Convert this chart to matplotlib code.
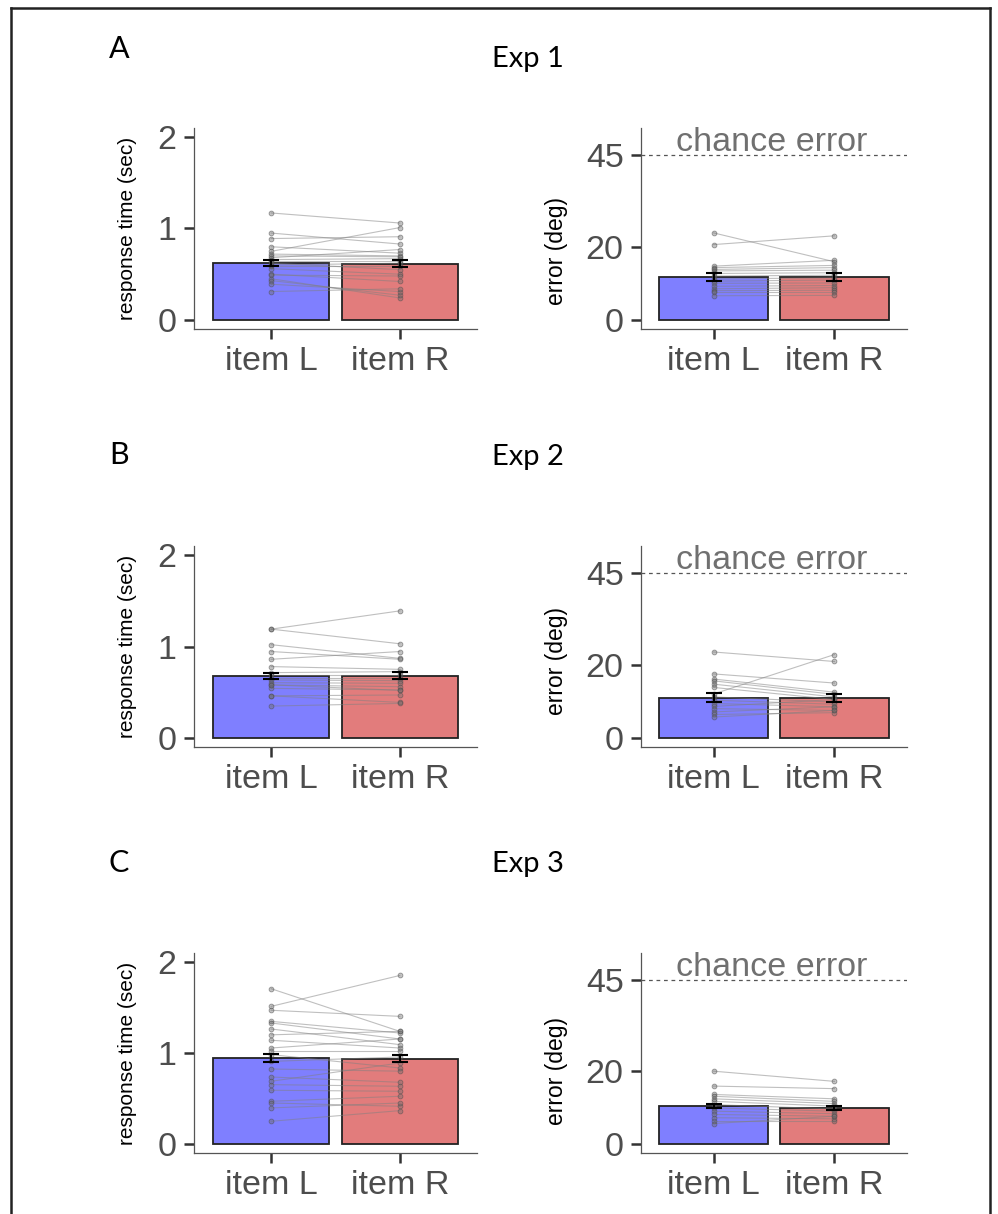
import matplotlib
matplotlib.use("Agg")
import matplotlib.pyplot as plt
from matplotlib.lines import Line2D

W, H = 998, 1214

categories = ["item L", "item R"]
exp_titles = ["Exp 1", "Exp 2", "Exp 3"]
panel_letters = ["A", "B", "C"]

# per-subject response times (sec)
rt1_L = [1.17, 0.95, 0.89, 0.80, 0.75, 0.72, 0.70, 0.68, 0.66, 0.64, 0.62, 0.60, 0.59, 0.56, 0.50, 0.49, 0.45, 0.43, 0.39, 0.31]
rt1_R = [1.06, 0.83, 0.91, 0.73, 1.01, 0.70, 0.69, 0.77, 0.67, 0.64, 0.55, 0.62, 0.59, 0.50, 0.42, 0.48, 0.24, 0.27, 0.31, 0.34]
rt2_L = [1.19, 1.19, 1.02, 0.945, 0.86, 0.78, 0.714, 0.69, 0.66, 0.634, 0.604, 0.579, 0.542, 0.46, 0.46, 0.348, 0.58]
rt2_R = [1.39, 1.03, 0.87, 0.86, 0.945, 0.75, 0.725, 0.69, 0.66, 0.626, 0.597, 0.56, 0.524, 0.469, 0.388, 0.377, 0.52]
rt3_L = [1.707, 1.513, 1.47, 1.348, 1.33, 1.264, 1.20, 1.14, 1.055, 1.018, 0.982, 0.908, 0.824, 0.736, 0.689, 0.652, 0.59, 0.469, 0.45, 0.396, 0.249]
rt3_R = [1.238, 1.853, 1.403, 1.22, 1.154, 1.092, 1.238, 1.055, 1.154, 1.018, 0.835, 0.956, 0.80, 0.678, 0.890, 0.634, 0.579, 0.524, 0.414, 0.45, 0.366]

# per-subject errors (deg)
err1_L = [23.8, 20.6, 14.7, 14.3, 13.8, 13.4, 12.7, 12.0, 11.2, 10.6, 10.0, 9.2, 8.5, 8.0, 7.6, 6.6]
err1_R = [15.9, 23.0, 16.3, 14.9, 14.3, 13.6, 12.9, 12.2, 11.5, 10.9, 10.1, 9.4, 8.8, 8.1, 7.6, 6.7]
err2_L = [23.5, 17.5, 16.1, 15.6, 14.7, 13.8, 12.0, 11.2, 10.3, 9.4, 8.6, 8.0, 7.1, 6.4, 5.7]
err2_R = [20.9, 15.0, 12.5, 11.9, 11.2, 10.5, 22.8, 9.8, 9.2, 8.5, 10.5, 7.5, 8.5, 6.9, 7.5]
err3_L = [20.0, 15.9, 13.6, 13.1, 12.4, 11.7, 10.8, 9.9, 9.0, 8.1, 7.2, 6.2, 5.6]
err3_R = [17.2, 15.2, 12.4, 11.7, 11.1, 10.4, 9.6, 9.0, 8.3, 7.6, 6.9, 6.2, 7.6]

# group means and standard errors (L, R)
rt_means = [[0.623, 0.615], [0.674, 0.681], [0.945, 0.938]]
rt_se = [[0.036, 0.035], [0.033, 0.037], [0.040, 0.038]]
err_means = [[11.8, 11.8], [11.0, 10.8], [10.4, 9.9]]
err_se = [[1.15, 1.15], [1.15, 1.10], [0.65, 0.65]]

chance_error = 45

rt_subjects = [(rt1_L, rt1_R), (rt2_L, rt2_R), (rt3_L, rt3_R)]
err_subjects = [(err1_L, err1_R), (err2_L, err2_R), (err3_L, err3_R)]

BAR_COLORS = ["#7F7FFF", "#E27C7C"]
TICK_GRAY = "#4D4D4D"

plt.rcParams["font.family"] = ["Liberation Sans", "DejaVu Sans"]


def px_axes(fig, left, top, right, bottom):
    return fig.add_axes([left / W, 1 - bottom / H, (right - left) / W, (bottom - top) / H])


def style_axes(ax):
    for side in ["top", "right"]:
        ax.spines[side].set_visible(False)
    for side in ["left", "bottom"]:
        ax.spines[side].set_color("#555555")
        ax.spines[side].set_linewidth(0.9)
    ax.tick_params(axis="both", length=7.5, width=1.8, color="#333333",
                   labelsize=24.5, labelcolor=TICK_GRAY, pad=5)
    ax.set_xticks([1, 2])
    ax.set_xticklabels(categories)
    ax.set_xlim(0.4, 2.6)


def draw_panel(ax, left_vals, right_vals, means, ses):
    ax.bar([1, 2], means, width=0.9, color=BAR_COLORS, edgecolor="#222222",
           linewidth=1.3, zorder=1)
    for a, b in zip(left_vals, right_vals):
        ax.plot([1, 2], [a, b], color="#808080", alpha=0.5, linewidth=0.8, zorder=2)
    xs = [1] * len(left_vals) + [2] * len(right_vals)
    ys = list(left_vals) + list(right_vals)
    ax.scatter(xs, ys, s=12, facecolor=(0.42, 0.42, 0.42, 0.4),
               edgecolor=(0.3, 0.3, 0.3, 0.55), linewidth=0.6, zorder=3)
    ax.errorbar([1, 2], means, yerr=ses, fmt="none", ecolor="black",
                elinewidth=1.5, capsize=6, capthick=1.5, zorder=4)


fig = plt.figure(figsize=(W / 100, H / 100), dpi=100)

rows = [(128, 329), (546, 747), (953, 1153)]
letter_base = [58, 464, 872]
title_base = [67, 465, 872]
err_label_y = [0.39, 0.43, 0.41]

for i in range(3):
    top, bottom = rows[i]

    ax = px_axes(fig, 194, top, 477, bottom)
    draw_panel(ax, rt_subjects[i][0], rt_subjects[i][1], rt_means[i], rt_se[i])
    style_axes(ax)
    ax.set_ylim(-0.1, 2.1)
    ax.set_yticks([0, 1, 2])
    ax.set_ylabel("response time (sec)", fontsize=15, color="black")
    ax.yaxis.set_label_coords(-0.20, 0.5)

    ax2 = px_axes(fig, 641, top, 907, bottom)
    draw_panel(ax2, err_subjects[i][0], err_subjects[i][1], err_means[i], err_se[i])
    style_axes(ax2)
    ax2.set_ylim(-2.5, 52.5)
    ax2.set_yticks([0, 20, 45])
    ax2.axhline(chance_error, color="#555555", linestyle=(0, (3, 3)), linewidth=0.9)
    ax2.text(1.48, chance_error + 1.1, "chance error", fontsize=24.5, color="#707070",
             ha="center", va="baseline")
    ax2.set_ylabel("error (deg)", fontsize=16.5, color="black")
    ax2.yaxis.set_label_coords(-0.274, err_label_y[i])

    fig.text(119 / W, 1 - letter_base[i] / H, panel_letters[i], fontsize=22,
             family=["Lato", "DejaVu Sans"], ha="center", va="baseline")
    fig.text(492 / W, 1 - title_base[i] / H, exp_titles[i], fontsize=21,
             family=["Lato", "DejaVu Sans"], ha="left", va="baseline")

# figure frame
for xs, ys in [([11, 11], [8, H]), ([11, 990], [8, 8]), ([990, 990], [8, H])]:
    fig.add_artist(Line2D([x / W for x in xs], [1 - y / H for y in ys],
                          color="#222222", linewidth=1.8))

fig.savefig("out.png", dpi=100)
